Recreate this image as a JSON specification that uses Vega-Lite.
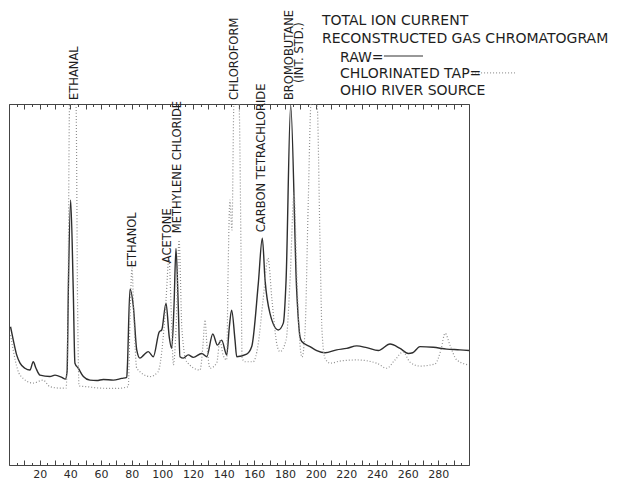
{
  "$schema": "https://vega.github.io/schema/vega-lite/v6.json",
  "width": 460,
  "height": 361,
  "autosize": {"type": "none"},
  "padding": {"left": 9, "top": 104, "right": 148, "bottom": 14},
  "background": "white",
  "config": {"view": {"stroke": "#444", "strokeWidth": 1}, "font": "DejaVu Sans"},
  "datasets": {
    "raw": [
      {"t":1,"v":38.3},{"t":2.8,"v":34.6},{"t":5,"v":30.5},{"t":7.2,"v":28.2},{"t":10.4,"v":26.8},{"t":13.7,"v":26.3},{"t":15.8,"v":28.6},{"t":17.6,"v":26.8},{"t":20.2,"v":24.9},{"t":26.7,"v":24.5},{"t":30,"v":24.9},{"t":34.4,"v":24.3},{"t":36.8,"v":23.8},{"t":37.9,"v":26},{"t":38.7,"v":48.5},{"t":40.2,"v":73.4},{"t":41.9,"v":48.5},{"t":43,"v":28.2},{"t":45.2,"v":26.8},{"t":48.5,"v":24.5},{"t":52.8,"v":23.5},{"t":57.2,"v":23.4},{"t":61.5,"v":23.7},{"t":68,"v":23.5},{"t":73.5,"v":24},{"t":76.8,"v":24.3},{"t":77.2,"v":27.2},{"t":78.9,"v":48.7},{"t":81.1,"v":43.9},{"t":83.3,"v":31.9},{"t":85.4,"v":29.6},{"t":88,"v":30.5},{"t":90.8,"v":31.4},{"t":94.1,"v":30},{"t":98,"v":36.9},{"t":99.6,"v":37.4},{"t":102.4,"v":44.8},{"t":104.5,"v":35.5},{"t":106.1,"v":32.3},{"t":107.6,"v":43.9},{"t":108.9,"v":60},{"t":110.4,"v":43.9},{"t":111.5,"v":30},{"t":113.7,"v":29.6},{"t":116.9,"v":30.5},{"t":120.2,"v":29.8},{"t":125.7,"v":30.9},{"t":128.9,"v":30},{"t":132.9,"v":36.3},{"t":135.9,"v":33.2},{"t":138.7,"v":34.6},{"t":142,"v":30.5},{"t":143.7,"v":38.3},{"t":145.2,"v":42.9},{"t":147.4,"v":34.6},{"t":148.5,"v":30},{"t":155,"v":30.7},{"t":158.3,"v":32.8},{"t":162.6,"v":50.3},{"t":165.2,"v":62.8},{"t":167,"v":51.2},{"t":170.2,"v":42},{"t":175.6,"v":37.4},{"t":178.9,"v":39.3},{"t":180.7,"v":51.2},{"t":183.7,"v":99.7},{"t":187.6,"v":48.5},{"t":189.8,"v":35.5},{"t":190.9,"v":34.2},{"t":196.3,"v":32.8},{"t":200.7,"v":31.7},{"t":206.1,"v":31.1},{"t":213.7,"v":31.9},{"t":220.2,"v":32.3},{"t":226.8,"v":33},{"t":233.3,"v":32.5},{"t":240.9,"v":31.7},{"t":248.5,"v":33.5},{"t":255,"v":32.3},{"t":260.4,"v":30.9},{"t":263.3,"v":31.1},{"t":268,"v":32.8},{"t":276.7,"v":32.6},{"t":285.5,"v":32.1},{"t":294.1,"v":31.9},{"t":300,"v":31.7}
    ],
    "tap": [
      {"t":1,"v":36},{"t":7.2,"v":24.9},{"t":15.7,"v":22.7},{"t":22.2,"v":23.5},{"t":26.7,"v":21.7},{"t":33.3,"v":21.3},{"t":37.2,"v":21.3},{"t":38.5,"v":45.7},{"t":39.5,"v":100},{"t":43.7,"v":100},{"t":44.7,"v":45.7},{"t":45.7,"v":21.9},{"t":50.7,"v":21.7},{"t":59.3,"v":21.3},{"t":70.2,"v":21.2},{"t":77.8,"v":21.7},{"t":78.9,"v":40.2},{"t":80.2,"v":54.6},{"t":81.5,"v":40.2},{"t":83.3,"v":26.8},{"t":92,"v":24.5},{"t":97.2,"v":25.8},{"t":100.4,"v":34.6},{"t":102.4,"v":45.7},{"t":104.3,"v":57.3},{"t":106,"v":40.2},{"t":107.2,"v":27.7},{"t":108.9,"v":37.4},{"t":110.9,"v":62.3},{"t":112.8,"v":37.4},{"t":115.9,"v":28.6},{"t":124.6,"v":26.3},{"t":126.5,"v":33.2},{"t":127.8,"v":40.2},{"t":129.1,"v":33.2},{"t":131.1,"v":26.8},{"t":135.5,"v":28.3},{"t":137.6,"v":34.6},{"t":139.6,"v":30.5},{"t":142,"v":29.1},{"t":142.8,"v":51.2},{"t":144.1,"v":73.4},{"t":145.4,"v":65.1},{"t":146.7,"v":100},{"t":150,"v":100},{"t":151.3,"v":59.6},{"t":152,"v":29.6},{"t":154,"v":28.6},{"t":159.3,"v":28.6},{"t":162.4,"v":33.2},{"t":165.7,"v":45.7},{"t":168.9,"v":57.3},{"t":171.5,"v":45.7},{"t":174.8,"v":33.2},{"t":176.7,"v":31.4},{"t":180.7,"v":34.6},{"t":183.3,"v":51.2},{"t":185.9,"v":75.3},{"t":187.8,"v":51.2},{"t":189.8,"v":33.2},{"t":191.1,"v":29.9},{"t":193.1,"v":37.4},{"t":195.2,"v":73.4},{"t":197,"v":100},{"t":200.9,"v":100},{"t":202.8,"v":62.3},{"t":204.1,"v":37.4},{"t":206.1,"v":29.6},{"t":209.4,"v":28.2},{"t":215.9,"v":28.8},{"t":226.8,"v":29.1},{"t":239.8,"v":28.2},{"t":246.3,"v":26.8},{"t":251.7,"v":29.1},{"t":257,"v":31.3},{"t":261.5,"v":28.5},{"t":268,"v":27.4},{"t":277.8,"v":28},{"t":281.7,"v":31.9},{"t":284.4,"v":36.5},{"t":287.6,"v":33.2},{"t":292,"v":29.1},{"t":300,"v":27.7}
    ],
    "compounds": [
      {"t":43.0,"v":101.1,"label":"ETHANAL"},
      {"t":80.7,"v":54.8,"label":"ETHANOL"},
      {"t":103.9,"v":55.9,"label":"ACETONE"},
      {"t":110.0,"v":64.2,"label":"METHYLENE CHLORIDE"},
      {"t":147.4,"v":101.1,"label":"CHLOROFORM"},
      {"t":165.0,"v":64.5,"label":"CARBON TETRACHLORIDE"},
      {"t":183.3,"v":101.1,"label":"BROMOBUTANE"},
      {"t":189.8,"v":105.8,"label":"(INT. STD.)"}
    ],
    "info": [
      {"t":204.1,"v":121.9,"label":"TOTAL ION CURRENT"},
      {"t":204.1,"v":116.8,"label":"RECONSTRUCTED GAS CHROMATOGRAM"},
      {"t":215.9,"v":111.6,"label":"RAW="},
      {"t":215.9,"v":107.2,"label":"CHLORINATED TAP="},
      {"t":215.9,"v":102.5,"label":"OHIO RIVER SOURCE"}
    ],
    "keys": [
      {"series":"raw","t":244.5,"t2":270.0,"v":113.3},
      {"series":"tap","t":302.0,"t2":330.0,"v":108.6}
    ]
  },
  "layer": [
    {
      "data": {"name": "raw"},
      "mark": {"type": "line", "color": "#2e2e2e", "strokeWidth": 1.4, "interpolate": "monotone", "clip": true},
      "encoding": {
        "x": {"field": "t", "type": "quantitative", "scale": {"domain": [0, 300], "nice": false, "zero": false},
          "axis": {"orient": "bottom", "values": [10,20,30,40,50,60,70,80,90,100,110,120,130,140,150,160,170,180,190,200,210,220,230,240,250,260,270,280,290],
            "labelExpr": "datum.value % 20 === 0 ? datum.label : ''", "tickSize": -5, "labelPadding": 8, "labelFontSize": 11, "labelFont": "DejaVu Sans", "labelColor": "#2a2a2a",
            "domainColor": "#444", "tickColor": "#444", "title": null, "grid": false, "labelFlush": false, "labelOverlap": false}},
        "y": {"field": "v", "type": "quantitative", "scale": {"domain": [0, 100], "nice": false}, "axis": null}
      }
    },
    {
      "data": {"name": "tap"},
      "mark": {"type": "line", "color": "#8f8f8f", "strokeWidth": 1.2, "strokeDash": [1, 2], "interpolate": "monotone", "clip": true},
      "encoding": {
        "x": {"field": "t", "type": "quantitative", "scale": {"domain": [0, 300], "nice": false, "zero": false},
          "axis": {"orient": "bottom", "values": [5,15,25,35,45,55,65,75,85,95,105,115,125,135,145,155,165,175,185,195,205,215,225,235,245,255,265,275,285,295],
            "labels": false, "domain": false, "tickSize": -2.5, "tickColor": "#444", "title": null, "grid": false}},
        "y": {"field": "v", "type": "quantitative", "scale": {"domain": [0, 100], "nice": false}, "axis": null}
      }
    },
    {
      "data": {"name": "compounds"},
      "mark": {"type": "text", "angle": 270, "align": "left", "baseline": "middle", "fontSize": 11.5, "font": "DejaVu Sans", "color": "#1e1e1e"},
      "encoding": {
        "x": {"field": "t", "type": "quantitative", "scale": {"domain": [0, 300], "nice": false, "zero": false},
          "axis": {"orient": "top", "values": [5,15,25,35,45,55,65,75,85,95,105,115,125,135,145,155,165,175,185,195,205,215,225,235,245,255,265,275,285,295],
            "labels": false, "domain": true, "domainColor": "#444", "tickSize": -2.5, "tickColor": "#444", "title": null, "grid": false}},
        "y": {"field": "v", "type": "quantitative", "scale": {"domain": [0, 100], "nice": false}, "axis": null},
        "text": {"field": "label"}
      }
    },
    {
      "data": {"name": "info"},
      "mark": {"type": "text", "align": "left", "baseline": "alphabetic", "fontSize": 14, "font": "DejaVu Sans", "color": "#1e1e1e"},
      "encoding": {
        "x": {"field": "t", "type": "quantitative", "scale": {"domain": [0, 300], "nice": false, "zero": false},
          "axis": {"orient": "top", "values": [10,20,30,40,50,60,70,80,90,100,110,120,130,140,150,160,170,180,190,200,210,220,230,240,250,260,270,280,290],
            "labels": false, "domain": false, "tickSize": -5, "tickColor": "#444", "title": null, "grid": false}},
        "y": {"field": "v", "type": "quantitative", "scale": {"domain": [0, 100], "nice": false}, "axis": null},
        "text": {"field": "label"}
      }
    },
    {
      "data": {"name": "keys"},
      "transform": [{"filter": "datum.series === 'raw'"}],
      "mark": {"type": "rule", "color": "#333", "strokeWidth": 1.2},
      "encoding": {
        "x": {"field": "t", "type": "quantitative", "axis": null},
        "x2": {"field": "t2"},
        "y": {"field": "v", "type": "quantitative", "axis": null}
      }
    },
    {
      "data": {"name": "keys"},
      "transform": [{"filter": "datum.series === 'tap'"}],
      "mark": {"type": "rule", "color": "#9a9a9a", "strokeWidth": 1.2, "strokeDash": [1, 2]},
      "encoding": {
        "x": {"field": "t", "type": "quantitative", "axis": null},
        "x2": {"field": "t2"},
        "y": {"field": "v", "type": "quantitative", "axis": null}
      }
    }
  ],
  "resolve": {"axis": {"x": "independent"}}
}
